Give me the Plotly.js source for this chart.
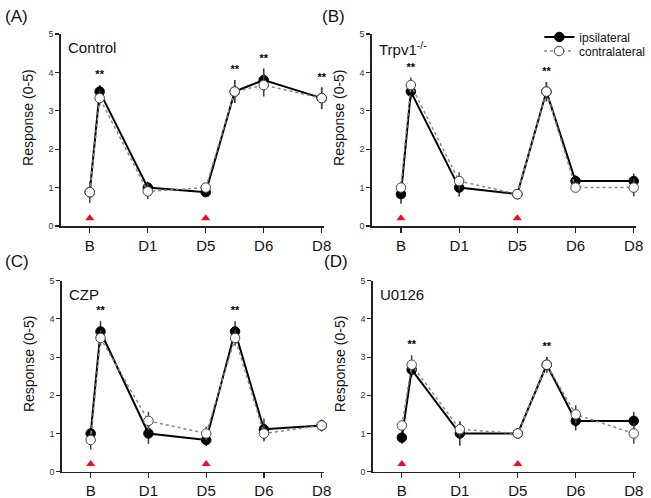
<!DOCTYPE html>
<html><head><meta charset="utf-8">
<script src="https://cdn.plot.ly/plotly-3.0.1.min.js"></script>
<style>html,body{margin:0;padding:0;background:#fff}#chart{width:651px;height:498px}</style>
</head><body><div id="chart"></div>
<script>
const xpos = [0, 0.17, 1, 2, 2.5, 3, 4];
const tickPos = [0, 1, 2, 3, 4];
const tickLabels = ['B', 'D1', 'D5', 'D6', 'D8'];
const injectionDays = [0, 2];

const panelTags = ['(A)', '(B)', '(C)', '(D)'];
const groupNames = ['Control', 'Trpv1<sup>-/-</sup>', 'CZP', 'U0126'];

const controlIpsi = [0.88, 3.5, 1.0, 0.88, 3.5, 3.8, 3.33];
const controlIpsiErr = [0.1, 0.17, 0.15, 0.08, 0.3, 0.3, 0.28];
const controlContra = [0.88, 3.33, 0.9, 1.0, 3.5, 3.67, 3.33];
const controlContraErr = [0.28, 0.2, 0.2, 0.1, 0.3, 0.3, 0.28];
const controlStars = [1, 4, 5, 6];

const trpv1Ipsi = [0.83, 3.5, 1.0, 0.83, 3.5, 1.17, 1.17];
const trpv1IpsiErr = [0.25, 0.2, 0.23, 0.05, 0.25, 0.15, 0.2];
const trpv1Contra = [1.0, 3.67, 1.17, 0.83, 3.5, 1.0, 1.0];
const trpv1ContraErr = [0.15, 0.2, 0.23, 0.05, 0.25, 0.1, 0.23];
const trpv1Stars = [1, 4];

const czpIpsi = [1.0, 3.67, 1.0, 0.83, 3.67, 1.11, 1.21];
const czpIpsiErr = [0.1, 0.27, 0.27, 0.16, 0.27, 0.28, 0.15];
const czpContra = [0.83, 3.5, 1.33, 1.0, 3.5, 1.0, 1.21];
const czpContraErr = [0.25, 0.2, 0.24, 0.18, 0.2, 0.21, 0.15];
const czpStars = [1, 4];

const u0126Ipsi = [0.89, 2.67, 1.0, 1.0, 2.8, 1.33, 1.33];
const u0126IpsiErr = [0.16, 0.2, 0.32, 0.08, 0.2, 0.25, 0.23];
const u0126Contra = [1.21, 2.8, 1.11, 1.0, 2.8, 1.5, 1.0];
const u0126ContraErr = [0.1, 0.25, 0.2, 0.08, 0.2, 0.24, 0.27];
const u0126Stars = [1, 4];

const panels = [
  {ipsi: controlIpsi, ie: controlIpsiErr, contra: controlContra, ce: controlContraErr, stars: controlStars},
  {ipsi: trpv1Ipsi, ie: trpv1IpsiErr, contra: trpv1Contra, ce: trpv1ContraErr, stars: trpv1Stars},
  {ipsi: czpIpsi, ie: czpIpsiErr, contra: czpContra, ce: czpContraErr, stars: czpStars},
  {ipsi: u0126Ipsi, ie: u0126IpsiErr, contra: u0126Contra, ce: u0126ContraErr, stars: u0126Stars}
];

const W = 651, H = 498;
const FONT = 'Liberation Sans, Arial, sans-serif';
const xDomains = [[61/W, 325/W], [373/W, 638/W], [62/W, 325/W], [374/W, 638/W]];
const yDomains = [[1-226/H, 1-34/H], [1-226/H, 1-34/H], [1-471.7/H, 1-280.7/H], [1-471.7/H, 1-280.7/H]];
const tagX = [3/W, 321/W, 3/W, 323/W];
const tagY = [1-17/H, 1-17/H, 1-261/H, 1-261/H];

const legendStyle = (yPix) => ({x: 541/W, y: 1-yPix/H, xanchor: 'left', yanchor: 'middle',
  bgcolor: 'rgba(0,0,0,0)', font: {size: 12, family: FONT, color: '#111'}, itemwidth: 30});

const traces = [];
const layout = {
  width: W, height: H,
  margin: {l: 0, r: 0, t: 0, b: 0},
  paper_bgcolor: '#fff', plot_bgcolor: 'rgba(0,0,0,0)',
  font: {family: FONT, color: '#111'},
  showlegend: true,
  legend: legendStyle(37),
  legend2: legendStyle(51),
  annotations: [], shapes: []
};

panels.forEach((p, i) => {
  const n = i + 1;
  const xa = 'x' + (n === 1 ? '' : n), ya = 'y' + (n === 1 ? '' : n);
  layout['xaxis' + (n === 1 ? '' : n)] = {
    domain: xDomains[i], anchor: ya, range: [-0.5, 4.04],
    tickmode: 'array', tickvals: tickPos, ticktext: tickLabels,
    ticks: 'outside', ticklen: 5, tickwidth: 1.2, tickcolor: '#222',
    showline: true, linecolor: '#222', linewidth: 1.5, showgrid: false, zeroline: false,
    tickfont: {size: 15, family: FONT, color: '#111'}
  };
  layout['yaxis' + (n === 1 ? '' : n)] = {
    domain: yDomains[i], anchor: xa, range: [0, 5],
    tickmode: 'array', tickvals: [0, 1, 2, 3, 4, 5],
    ticks: 'outside', ticklen: 4, tickwidth: 1.2, tickcolor: '#222',
    showline: true, linecolor: '#222', linewidth: 1.5, showgrid: false, zeroline: false,
    tickfont: {size: 9, family: FONT, color: '#333'}
  };
  traces.push({
    x: xpos, y: p.ipsi, xaxis: xa, yaxis: ya, type: 'scatter', mode: 'lines+markers',
    name: 'ipsilateral', showlegend: i === 1, legend: 'legend', cliponaxis: false,
    line: {color: '#000', width: 2},
    marker: {color: '#000', size: 9.5, line: {color: '#000', width: 1}},
    error_y: {type: 'data', array: p.ie, visible: true, color: '#333', thickness: 1.5, width: 0}
  });
  traces.push({
    x: xpos, y: p.contra, xaxis: xa, yaxis: ya, type: 'scatter', mode: 'lines+markers',
    name: 'contralateral', showlegend: i === 1, legend: 'legend2', cliponaxis: false,
    line: {color: '#888', width: 1.5, dash: 'dot'},
    marker: {color: '#fff', size: 9.5, line: {color: '#444', width: 1}},
    error_y: {type: 'data', array: p.ce, visible: true, color: '#444', thickness: 1.5, width: 0}
  });
  traces.push({
    x: p.stars.map(k => xpos[k]),
    y: p.stars.map(k => Math.max(p.ipsi[k] + p.ie[k], p.contra[k] + p.ce[k]) + 0.25),
    xaxis: xa, yaxis: ya, type: 'scatter', mode: 'text', text: p.stars.map(() => '<b>**</b>'),
    textposition: 'middle center', textfont: {size: 11, family: FONT, color: '#000'},
    showlegend: false, hoverinfo: 'skip', cliponaxis: false
  });
  traces.push({
    x: injectionDays, y: injectionDays.map(() => 0.2), xaxis: xa, yaxis: ya,
    type: 'scatter', mode: 'markers', showlegend: false, hoverinfo: 'skip',
    marker: {symbol: 'triangle-up', color: '#e8121c', size: 8}
  });
  const x0 = xDomains[i][0], y1 = yDomains[i][1], y0 = yDomains[i][0];
  layout.annotations.push({xref: 'paper', yref: 'paper', x: x0 + 5/W, y: y1 - 3/H,
    xanchor: 'left', yanchor: 'top', showarrow: false, text: groupNames[i],
    font: {size: 15, family: FONT, color: '#111'}});
  layout.annotations.push({xref: 'paper', yref: 'paper', x: tagX[i], y: tagY[i],
    xanchor: 'left', yanchor: 'middle', showarrow: false, text: panelTags[i],
    font: {size: 17, family: FONT, color: '#111'}});
  layout.annotations.push({xref: 'paper', yref: 'paper', x: x0 - 33/W, y: (y0 + y1)/2 + 13/H,
    xanchor: 'center', yanchor: 'middle', showarrow: false, textangle: -90, text: 'Response (0-5)',
    font: {size: 14, family: FONT, color: '#111'}});
});

Plotly.newPlot('chart', traces, layout, {staticPlot: true, displayModeBar: false});
</script>
</body></html>
